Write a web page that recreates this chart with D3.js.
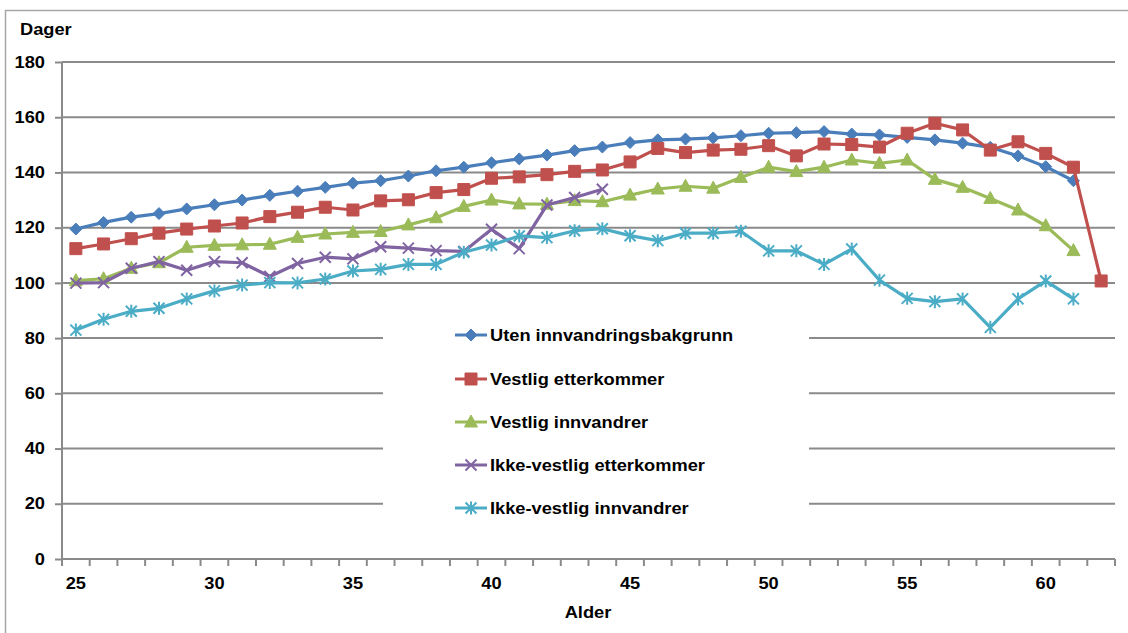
<!DOCTYPE html>
<html><head><meta charset="utf-8">
<script src="https://cdn.jsdelivr.net/npm/d3@7"></script>
<style>
html,body{margin:0;padding:0;background:#fff;}
svg{display:block;font-family:"Liberation Sans",Arial,sans-serif;}
</style></head>
<body><svg id="c" width="1128" height="633"></svg>
<script>
const ages = d3.range(25, 63);
const yTicks = [0,20,40,60,80,100,120,140,160,180];
const xTickLabels = [25,30,35,40,45,50,55,60];
const seriesNames = ["Uten innvandringsbakgrunn","Vestlig etterkommer","Vestlig innvandrer","Ikke-vestlig etterkommer","Ikke-vestlig innvandrer"];
// values by age starting at 25
const utenInnvandring = [119.5,121.9,123.8,125.1,126.8,128.3,130.0,131.7,133.2,134.6,136.1,137.0,138.7,140.6,141.9,143.5,144.9,146.3,147.9,149.2,150.8,151.8,152.1,152.5,153.3,154.2,154.4,154.8,153.9,153.6,152.7,151.8,150.6,149.1,146.0,142.1,137.0];
const vestligEtterkommer = [112.4,114.1,116.0,118.0,119.5,120.6,121.7,124.0,125.6,127.4,126.4,129.7,130.1,132.7,133.8,137.9,138.4,139.2,140.4,140.9,143.8,148.7,147.2,148.1,148.4,149.7,146.0,150.3,150.1,149.2,154.2,157.8,155.4,148.1,151.1,146.9,141.9,100.7];
const vestligInnvandrer = [100.8,101.5,105.3,107.3,112.9,113.6,113.8,114.0,116.5,117.7,118.3,118.6,121.0,123.6,127.7,130.0,128.6,128.5,129.8,129.4,131.8,134.0,135.0,134.3,138.2,141.9,140.3,141.9,144.5,143.3,144.5,137.5,134.6,130.6,126.4,120.7,111.7];
const ikkeVestligEtterkommer = [99.9,100.1,105.3,107.7,104.6,107.7,107.3,102.3,107.0,109.3,108.7,113.1,112.6,111.7,111.4,119.4,112.4,128.2,130.9,133.9];
const ikkeVestligInnvandrer = [82.9,86.8,89.7,90.8,94.2,97.1,99.2,100.1,100.0,101.4,104.3,104.9,106.7,106.7,111.1,113.7,117.0,116.4,118.9,119.6,117.1,115.3,118.0,118.0,118.7,111.6,111.6,106.7,112.3,101.0,94.4,93.2,94.2,83.9,94.2,100.7,94.2];
const colors = ["#4A7EBB","#C0504D","#9BBB59","#8064A2","#4BACC6"];
const markers = ["diamond","square","triangle","x","star"];
const allSeries = [utenInnvandring,vestligEtterkommer,vestligInnvandrer,ikkeVestligEtterkommer,ikkeVestligInnvandrer];

const svg = d3.select("#c");
const L = 62, R = 1115, T = 62, B = 559;
const x = d3.scaleBand().domain(ages).range([L, R]).padding(0);
const cx = a => x(a) + x.bandwidth()/2;
const y = d3.scaleLinear().domain([0,180]).range([B, T]);
const grid = "#8a8a8a";

svg.append("rect").attr("x",5.5).attr("y",10.5).attr("width",1140).attr("height",640)
  .attr("fill","none").attr("stroke","#a6a6a6").attr("stroke-width",1.5);

svg.append("g").selectAll("line").data(yTicks.filter(d=>d>0)).join("line")
  .attr("x1",L).attr("x2",R).attr("y1",d=>y(d)).attr("y2",d=>y(d))
  .attr("stroke",grid).attr("stroke-width",2);

const yAxis = svg.append("g").attr("transform",`translate(${L},0)`)
  .call(d3.axisLeft(y).tickValues(yTicks).tickSize(7).tickPadding(10).tickFormat(d3.format("d")));
yAxis.select(".domain").attr("stroke",grid).attr("stroke-width",2).attr("d",`M0,${T}V${B}`);
yAxis.selectAll(".tick line").attr("stroke",grid).attr("stroke-width",2);
yAxis.selectAll("text").attr("font-size",16).attr("font-weight","bold").attr("fill","#000")
  .attr("font-family","Liberation Sans, Arial, sans-serif").classed("st",true);

const xAxisG = svg.append("g").attr("transform",`translate(0,${B})`);
xAxisG.append("line").attr("x1",L).attr("x2",R).attr("stroke",grid).attr("stroke-width",2);
const bounds = ages.map(a=>x(a)).concat([R]);
xAxisG.selectAll("line.tk").data(bounds).join("line").attr("class","tk")
  .attr("x1",d=>d).attr("x2",d=>d).attr("y1",0).attr("y2",7).attr("stroke",grid).attr("stroke-width",2);
xAxisG.selectAll("text").data(xTickLabels).join("text").attr("class","st")
  .attr("x",d=>cx(d)).attr("y",30).attr("text-anchor","middle")
  .attr("font-size",16).attr("font-weight","bold").text(d=>d);

svg.append("text").attr("class","st").attr("x",20).attr("y",35).attr("font-size",16).attr("font-weight","bold").text("Dager");
svg.append("text").attr("class","st").attr("x",588).attr("y",618).attr("text-anchor","middle").attr("font-size",16).attr("font-weight","bold").text("Alder");

function markerPath(type){
  switch(type){
    case "diamond": { const s=6; return `M0,${-s}L${s},0L0,${s}L${-s},0Z`; }
    case "square": { const s=6; return `M${-s},${-s}H${s}V${s}H${-s}Z`; }
    case "triangle": { const s=6; return `M0,${-s-1}L${s+0.5},${s-1}L${-s-0.5},${s-1}Z`; }
    case "x": { const s=5.5; return `M${-s},${-s}L${s},${s}M${s},${-s}L${-s},${s}`; }
    case "star": { const s=5.5; return `M${-s},${-s}L${s},${s}M${s},${-s}L${-s},${s}M0,${-s-1}V${s+1}`; }
  }
}
function drawMarker(g, type, color, px, py){
  const filled = (type==="diamond"||type==="square"||type==="triangle");
  g.append("path").attr("transform",`translate(${px},${py})`).attr("d",markerPath(type))
    .attr("fill",filled?color:"none").attr("stroke",color).attr("stroke-width",filled?1:2);
}

const line = d3.line().defined(d=>d.v!=null).x(d=>cx(d.a)).y(d=>y(d.v));
allSeries.forEach((vals,i)=>{
  const data = vals.map((v,j)=>({a:ages[j], v}));
  const g = svg.append("g");
  g.append("path").datum(data).attr("d",line).attr("fill","none")
    .attr("stroke",colors[i]).attr("stroke-width",3.2).attr("stroke-linejoin","round");
  data.forEach(d=>{ if(d.v!=null) drawMarker(g, markers[i], colors[i], cx(d.a), y(d.v)); });
});

const lg = svg.append("g");
lg.append("rect").attr("x",383).attr("y",300).attr("width",426).attr("height",232).attr("fill","#fff");
const legY = [335,379,422,465,508];
seriesNames.forEach((n,i)=>{
  lg.append("line").attr("x1",455).attr("x2",487).attr("y1",legY[i]).attr("y2",legY[i])
    .attr("stroke",colors[i]).attr("stroke-width",3);
  drawMarker(lg, markers[i], colors[i], 471, legY[i]);
  lg.append("text").attr("class","st").attr("x",490).attr("y",legY[i]+6).attr("font-size",16).attr("font-weight","bold").text(n);
});

// horizontal stretch of text to match reference rendering
svg.selectAll("text.st").each(function(){
  const w = this.getComputedTextLength();
  d3.select(this).attr("textLength", w*1.14).attr("lengthAdjust","spacingAndGlyphs");
});
</script></body></html>
